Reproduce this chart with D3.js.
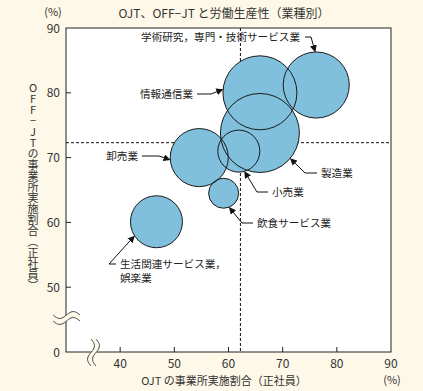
<!DOCTYPE html>
<html><head><meta charset="utf-8">
<script src="https://cdn.jsdelivr.net/npm/d3@7"></script>
<style>
html,body{margin:0;padding:0;background:#fdf8e8;}
svg{display:block;font-family:"Noto Sans CJK JP","Noto Sans",sans-serif;}
</style></head>
<body><svg id="c" width="423" height="391"></svg>
<script>
// ---- data ----
const industries = ["学術研究，専門・技術サービス業","情報通信業","製造業","小売業","卸売業","飲食サービス業","生活関連サービス業，娯楽業"];
const ojtRate    = [76.2, 65.8, 65.8, 61.9, 54.6, 59.1, 46.7];
const offjtRate  = [81.2, 80.0, 73.8, 71.0, 70.0, 64.5, 60.1];
const productivity = [700, 877, 1000, 283, 540, 144, 433]; // bubble size (relative)
const xTicks = [40, 50, 60, 70, 80, 90];
const yTicks = [50, 60, 70, 80, 90];
const ojtAvg = 62.2, offjtAvg = 72.3;

// ---- layout for annotations (text position, elbow path, tip angle) ----
const notes = [
  {tx:300, ty:37, anchor:"end",   p:[[305,37],[311,37]], ang:-92},
  {tx:193, ty:94, anchor:"end",   p:[[197,94],[211,94]], ang:185},
  {tx:321, ty:173, anchor:"start",p:[[317,173],[305,173]], ang:40},
  {tx:272, ty:192, anchor:"start",p:[[268,192],[257,192]], ang:74},
  {tx:138, ty:156, anchor:"end",  p:[[142,156],[159,156]], ang:176},
  {tx:257, ty:223, anchor:"start",p:[[253,223],[242,223]], ang:68},
  {tx:120, ty:264, anchor:"start",p:[[116,264],[109,264]], ang:147, lines:["生活関連サービス業，","娯楽業"]}
];

const bg = "#fdf8e8", ink = "#222", txt = "#333";
const svg = d3.select("#c");
const L = 66, R = 391, T = 28, B = 352;
const x = d3.scaleLinear([30, 90], [L, R]);
const y = d3.scaleLinear([40, 90], [B, T]);
const r = d3.scaleSqrt([0, 1000], [0, 39.5]);

svg.append("rect").attr("width",423).attr("height",391).attr("fill",bg);
svg.append("defs").append("marker").attr("id","ah").attr("viewBox","0 0 10 10")
  .attr("refX",9).attr("refY",5).attr("markerWidth",7).attr("markerHeight",7)
  .attr("orient","auto").attr("markerUnits","userSpaceOnUse")
  .append("path").attr("d","M0,0L10,5L0,10z").attr("fill","#111");

// plot area
svg.append("rect").attr("x",L).attr("y",T).attr("width",R-L).attr("height",B-T)
  .attr("fill","#fff").attr("stroke",ink).attr("stroke-width",1);

// ticks
svg.append("g").selectAll("line").data(xTicks.filter(d=>d<90)).join("line")
  .attr("x1",d=>x(d)).attr("x2",d=>x(d)).attr("y1",B).attr("y2",B-5).attr("stroke",ink);
svg.append("g").selectAll("line").data(yTicks.filter(d=>d<90)).join("line")
  .attr("x1",L).attr("x2",L+5).attr("y1",d=>y(d)).attr("y2",d=>y(d)).attr("stroke",ink);
svg.append("g").selectAll("text").data(xTicks).join("text")
  .attr("x",d=>x(d)).attr("y",368).attr("text-anchor","middle")
  .attr("font-size",12).attr("fill",txt).text(d=>d);
svg.append("g").selectAll("text").data(yTicks).join("text")
  .attr("x",60).attr("y",d=>y(d)+4.5).attr("text-anchor","end")
  .attr("font-size",12).attr("fill",txt).text(d=>d);
svg.append("text").attr("x",60).attr("y",B+4.5).attr("text-anchor","end")
  .attr("font-size",12).attr("fill",txt).text("0");

// dashed average lines
svg.append("line").attr("x1",x(ojtAvg)).attr("x2",x(ojtAvg)).attr("y1",T).attr("y2",B)
  .attr("stroke","#111").attr("stroke-dasharray","3,2");
svg.append("line").attr("x1",L).attr("x2",R).attr("y1",y(offjtAvg)).attr("y2",y(offjtAvg))
  .attr("stroke","#111").attr("stroke-dasharray","3,2");

// bubbles: fills then outlines
const data = industries.map((n,i)=>({name:n, ox:ojtRate[i], oy:offjtRate[i], v:productivity[i], note:notes[i]}));
svg.append("g").selectAll("circle").data(data).join("circle")
  .attr("cx",d=>x(d.ox)).attr("cy",d=>y(d.oy)).attr("r",d=>r(d.v)).attr("fill","#80c0dc");
svg.append("g").selectAll("circle").data(data).join("circle")
  .attr("cx",d=>x(d.ox)).attr("cy",d=>y(d.oy)).attr("r",d=>r(d.v))
  .attr("fill","none").attr("stroke","#1a1a1a").attr("stroke-width",1);

// annotations
const ann = svg.append("g");
data.forEach(d=>{
  const n = d.note, a = n.ang*Math.PI/180, rr = r(d.v)+0.5;
  const tip = [x(d.ox)+rr*Math.cos(a), y(d.oy)+rr*Math.sin(a)];
  ann.append("path").attr("d", d3.line()([...n.p, tip]))
    .attr("fill","none").attr("stroke","#111").attr("stroke-width",1).attr("marker-end","url(#ah)");
  const lines = n.lines || [d.name];
  const t = ann.append("text").attr("x",n.tx).attr("y",n.ty+4).attr("text-anchor",n.anchor)
      .attr("font-size",10.6).attr("fill","#222");
  lines.forEach((s,k)=>{
    t.append("tspan").attr("x",n.tx).attr("dy",k===0?0:13.5).text(s);
  });
});

// axis break squiggles
function wave(x0,y0,len,amp,vertical){
  const pts=[]; for(let i=0;i<=24;i++){const s=i/24*len, w=amp*Math.sin(i/24*Math.PI*2);
    pts.push(vertical?[x0+w,y0+s]:[x0+s,y0+w]);} return pts;}
const yb1 = wave(53,315,27,3.5,false), yb2 = wave(53,321,27,3.5,false);
svg.append("path").attr("d",d3.line()([...yb1,...yb2.slice().reverse()])+"Z").attr("fill",bg);
[yb1,yb2].forEach(p=>svg.append("path").attr("d",d3.line().curve(d3.curveBasis)(p)).attr("fill","none").attr("stroke","#444"));
const xb1 = wave(91,339,27,3.5,true), xb2 = wave(96,339,27,3.5,true);
svg.append("path").attr("d",d3.line()([...xb1,...xb2.slice().reverse()])+"Z").attr("fill",bg);
[xb1,xb2].forEach(p=>svg.append("path").attr("d",d3.line().curve(d3.curveBasis)(p)).attr("fill","none").attr("stroke","#444"));

// titles
svg.append("text").attr("x",224).attr("y",17.5).attr("text-anchor","middle")
  .attr("font-size",12).attr("fill",txt).text("OJT、OFF−JT と労働生産性（業種別）");
svg.append("text").attr("x",53).attr("y",16).attr("text-anchor","middle")
  .attr("font-size",11).attr("fill",txt).text("(%)");
svg.append("text").attr("x",224).attr("y",385).attr("text-anchor","middle")
  .attr("font-size",11).attr("fill",txt).text("OJT の事業所実施割合（正社員）");
svg.append("text").attr("x",392).attr("y",384).attr("text-anchor","middle")
  .attr("font-size",11).attr("fill",txt).text("(%)");
svg.append("text").attr("x",33).attr("y",187).attr("text-anchor","middle")
  .attr("font-size",11).attr("fill",txt)
  .style("writing-mode","vertical-rl").style("text-orientation","upright")
  .text("OFF−JTの事業所実施割合（正社員）");
</script></body></html>
